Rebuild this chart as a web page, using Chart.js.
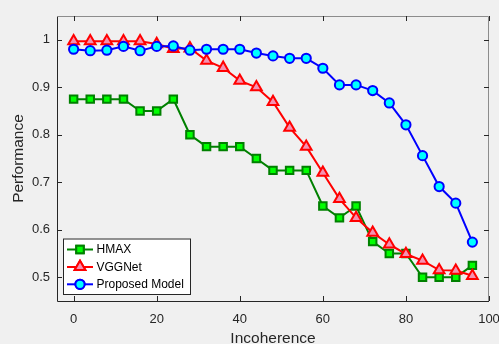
<!DOCTYPE html>
<html>
<head>
<meta charset="utf-8">
<script src="https://cdn.jsdelivr.net/npm/chart.js@4/dist/chart.umd.min.js"></script>
<style>
html,body{margin:0;padding:0;background:#f0f0f0;}
#wrap{width:499px;height:344px;position:relative;}
</style>
</head>
<body>
<div id="wrap"><canvas id="c" width="499" height="344"></canvas></div>
<script>
const incoherence = [0,4,8,12,16,20,24,28,32,36,40,44,48,52,56,60,64,68,72,76,80,84,88,92,96];
const hmax = [0.875,0.875,0.875,0.875,0.85,0.85,0.875,0.8,0.775,0.775,0.775,0.75,0.725,0.725,0.725,0.65,0.625,0.65,0.575,0.55,0.55,0.5,0.5,0.5,0.525];
const vggnet = [0.997,0.997,0.997,0.997,0.997,0.991,0.981,0.982,0.956,0.941,0.914,0.9,0.869,0.815,0.775,0.72,0.665,0.625,0.594,0.569,0.549,0.535,0.515,0.514,0.503];
const proposed = [0.98,0.977,0.978,0.986,0.977,0.986,0.987,0.978,0.98,0.98,0.98,0.972,0.966,0.961,0.961,0.94,0.905,0.905,0.893,0.867,0.821,0.756,0.691,0.656,0.574];
const seriesNames = ['HMAX','VGGNet','Proposed Model'];
const xTicks = [0,20,40,60,80,100];
const yTicks = [0.5,0.6,0.7,0.8,0.9,1];
const xLabel = 'Incoherence';
const yLabel = 'Performance';

const pts = arr => arr.map((v,i)=>({x:incoherence[i], y:v}));

const datasets = [
  {label:seriesNames[0], data:pts(hmax), borderColor:'#008000', backgroundColor:'#00ff00',
   pointStyle:'rect', pointRadius:5.3, pointBorderWidth:2, borderWidth:2, order:3},
  {label:seriesNames[1], data:pts(vggnet), borderColor:'#ff0000', backgroundColor:'#f591b2',
   pointStyle:'triangle', pointRadius:6.2, pointBorderWidth:2, borderWidth:2, order:2},
  {label:seriesNames[2], data:pts(proposed), borderColor:'#0000ff', backgroundColor:'#00ffff',
   pointStyle:'circle', pointRadius:4.6, pointBorderWidth:2, borderWidth:2, order:1}
];
datasets.forEach(d=>{d.tension=0; d.fill=false; d.pointHoverRadius=d.pointRadius; d.pointBackgroundColor=d.backgroundColor; d.pointBorderColor=d.borderColor;});

const FONT = '"Liberation Sans", Arial, sans-serif';

const frame = {
  id:'frame',
  afterDatasetsDraw(chart){
    const ctx = chart.ctx, a = chart.chartArea;
    const xs = chart.scales.x, ys = chart.scales.y;
    ctx.save();
    ctx.lineWidth = 1;
    ctx.strokeStyle = '#262626';
    ctx.beginPath();
    ctx.moveTo(a.left+0.5, a.top); ctx.lineTo(a.left+0.5, a.bottom+0.5); ctx.lineTo(a.right, a.bottom+0.5);
    ctx.stroke();
    ctx.strokeStyle = '#8c8c8c';
    ctx.beginPath();
    ctx.moveTo(a.left, a.top+0.5); ctx.lineTo(a.right-0.5, a.top+0.5); ctx.lineTo(a.right-0.5, a.bottom);
    ctx.stroke();
    ctx.strokeStyle = '#262626';
    ctx.beginPath();
    const tl = 5;
    xs.ticks.forEach(t=>{
      const p = Math.round(xs.getPixelForValue(t.value))+0.5;
      ctx.moveTo(p, a.bottom); ctx.lineTo(p, a.bottom-tl);
      ctx.moveTo(p, a.top); ctx.lineTo(p, a.top+tl);
    });
    ys.ticks.forEach(t=>{
      const p = Math.round(ys.getPixelForValue(t.value))+0.5;
      ctx.moveTo(a.left, p); ctx.lineTo(a.left+tl, p);
      ctx.moveTo(a.right, p); ctx.lineTo(a.right-tl, p);
    });
    ctx.stroke();

    // legend
    const lx = 63, ly = 238.5, lw = 127, lh = 55.5;
    ctx.fillStyle = '#ffffff';
    ctx.fillRect(lx, ly, lw, lh);
    ctx.strokeStyle = '#262626';
    ctx.strokeRect(lx+0.5, ly+0.5, lw, lh);
    const rows = [249.5, 267, 284.3];
    ctx.font = '12px ' + FONT;
    ctx.textBaseline = 'middle';
    ctx.textAlign = 'left';
    chart.data.datasets.forEach((d,i)=>{
      const y = rows[i];
      ctx.strokeStyle = d.borderColor; ctx.lineWidth = 2;
      ctx.beginPath(); ctx.moveTo(67, y); ctx.lineTo(93, y); ctx.stroke();
      ctx.fillStyle = d.backgroundColor;
      Chart.helpers.drawPoint(ctx, {pointStyle:d.pointStyle, radius:d.pointRadius, borderWidth:2, rotation:0}, 80, y);
      ctx.fill(); ctx.stroke();
      ctx.fillStyle = '#000000';
      ctx.fillText(d.label, 96.5, y+0.5);
    });
    ctx.restore();
  }
};

new Chart(document.getElementById('c'), {
  type:'line',
  data:{datasets},
  plugins:[frame],
  options:{
    responsive:false,
    animation:false,
    layout:{padding:{left:0, top:16, right:10, bottom:0}},
    plugins:{legend:{display:false}, tooltip:{enabled:false}},
    scales:{
      x:{type:'linear', min:-4, max:100,
        afterBuildTicks:s=>{s.ticks = xTicks.map(v=>({value:v}));},
        afterFit:s=>{s.height = 43; s.paddingLeft = 0; s.paddingRight = 0;},
        grid:{display:false, drawTicks:false, tickLength:0}, border:{display:false},
        ticks:{padding:11, color:'#262626', font:{family:FONT, size:13}, maxRotation:0, autoSkip:false, callback:v=>String(v)},
        title:{display:true, text:xLabel, color:'#262626', font:{family:FONT, size:15.5}, padding:{top:0,bottom:-4}}
      },
      y:{type:'linear', min:0.45, max:1.05,
        afterBuildTicks:s=>{s.ticks = yTicks.map(v=>({value:v}));},
        afterFit:s=>{s.width = 57; s.paddingTop = 0; s.paddingBottom = 0;},
        grid:{display:false, drawTicks:false, tickLength:0}, border:{display:false},
        ticks:{padding:7, color:'#262626', font:{family:FONT, size:13}, autoSkip:false, callback:v=>String(v)},
        title:{display:true, text:yLabel, color:'#262626', font:{family:FONT, size:15.5}, padding:{top:9,bottom:0}}
      }
    }
  }
});
</script>
</body>
</html>
